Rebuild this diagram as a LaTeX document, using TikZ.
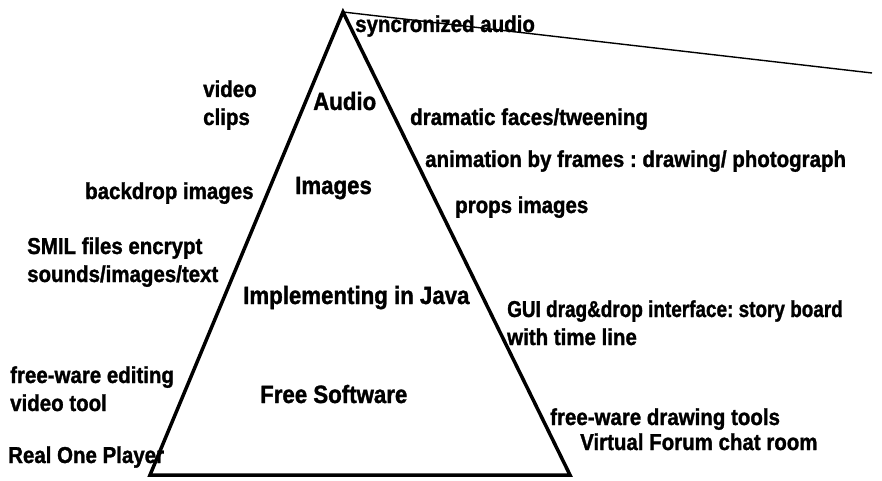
\documentclass[tikz,border=0pt]{standalone}
\usepackage{graphicx}
\usepackage{fontspec}
\setmainfont{Liberation Sans}[FakeStretch=0.89,BoldFont={Liberation Sans Bold},BoldFeatures={FakeStretch=0.89,FakeBold=1.3}]
\frenchspacing
\begin{document}
\begin{tikzpicture}[x=1pt,y=-1pt,
  side/.style={anchor=base west,inner sep=0pt,font=\bfseries\fontsize{23}{28}\selectfont},
  center/.style={anchor=base west,inner sep=0pt,font=\bfseries\fontsize{25}{30}\selectfont},
  edge/.style={line width=3.5pt,line join=miter},
  thin/.style={line width=1.4pt}]
\useasboundingbox (0,0) rectangle (882,481);
\coordinate (apex) at (343,12);
\coordinate (bl) at (150,475);
\coordinate (br) at (570,475);
\coordinate (far) at (872,73);
\draw[edge] (bl) -- (apex) -- (br) -- cycle;
\draw[thin] (apex) -- (far);
% centre labels
\node[center] (audio) at (313,110) {Audio};
\node[center] (images) at (295,194) {Images};
\node[center] (java) at (243,304) {Implementing in Java};
\node[center] (free) at (260,403) {Free Software};
% right labels
\node[side] (sync) at (355,32) {syncronized audio};
\node[side] (drama) at (410,125) {dramatic faces/tweening};
\node[side] (anim) at (425,167) {animation by frames : drawing/ photograph};
\node[side] (props) at (455,213) {props images};
\node[side] (gui) at (507,317) {\begin{tabular}[t]{@{}l@{}}\scalebox{0.925}[1]{GUI drag\&drop interface: story board}\\with time line\end{tabular}};
\node[side] (fwdraw) at (550,425) {free-ware drawing tools};
\node[side] (forum) at (580,450) {Virtual Forum chat room};
% left labels
\node[side] (video) at (203,97) {\begin{tabular}[t]{@{}l@{}}video\\clips\end{tabular}};
\node[side] (backdrop) at (85,199) {backdrop images};
\node[side] (smil) at (27,254) {\begin{tabular}[t]{@{}l@{}}SMIL files encrypt\\sounds/images/text\end{tabular}};
\node[side] (fwedit) at (10,383) {\begin{tabular}[t]{@{}l@{}}free-ware editing\\video tool\end{tabular}};
\node[side] (real) at (8,463) {Real One Player};
\end{tikzpicture}
\end{document}
